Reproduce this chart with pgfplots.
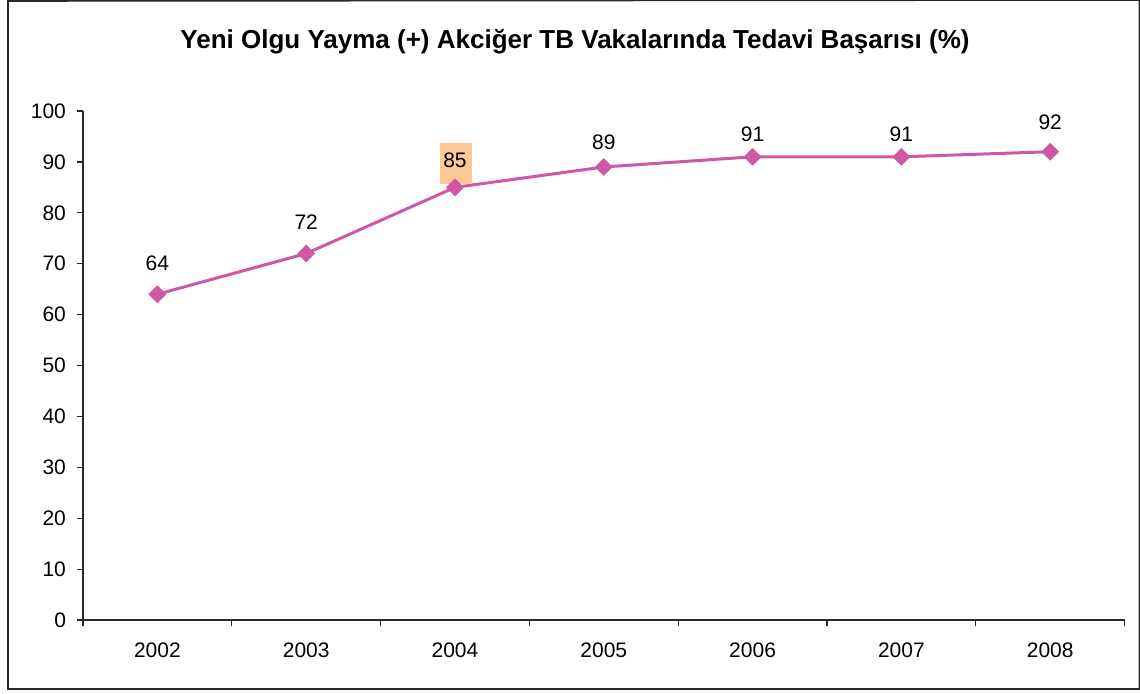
\documentclass[border=0pt]{standalone}
\usepackage{pgfplots}
\pgfplotsset{compat=1.18}
\usepackage{fontspec}
\setmainfont{Liberation Sans}
\definecolor{linec}{RGB}{206,88,166}
\definecolor{boxc}{RGB}{252,200,150}
\definecolor{axc}{RGB}{40,40,40}
\pgfplotstableread{
x y lab off
0 64 64 15.5
1 72 72 15.5
2 85 85 13.5
3 89 89 12.5
4 91 91 11.5
5 91 91 11.5
6 92 92 14.5
}\datatab
\begin{document}
\begin{tikzpicture}
\useasboundingbox (-41.5pt,-36.5pt) rectangle (528.5pt,310pt);
\begin{axis}[
  at={(0,0)}, anchor=south west,
  scale only axis,
  width=520.8pt, height=254.5pt,
  xmin=-0.5, xmax=6.5, ymin=0, ymax=100,
  axis x line=bottom, axis y line=left,
  axis line style={-, axc, line width=0.6pt},
  xtick={0,...,6},
  xticklabels={2002,2003,2004,2005,2006,2007,2008},
  major x tick style={draw=none},
  minor xtick={-0.5,0.5,...,6.5},
  minor x tick style={axc, line width=0.6pt},
  minor tick length=3pt,
  ytick={0,10,...,100},
  y tick style={axc, line width=0.6pt},
  major tick length=3pt,
  tick align=outside,
  tick label style={font=\fontsize{10.5}{12}\selectfont, text=black},
  /pgf/number format/assume math mode=true,
  xticklabel style={yshift=-5pt},
  yticklabel style={xshift=-2pt},
  clip=false,
]
\addplot[draw=none, nodes near coords={}, 
  every node near coord/.style={anchor=center, xshift=0.6pt, yshift=11.75pt, fill=boxc, inner sep=0pt,
    minimum width=16pt, minimum height=20.5pt}]
  coordinates {(2,85)};
\addplot[linec, line width=1.5pt, mark=square*, mark size=2.9pt,
  mark options={fill=linec, draw=linec, line width=0.5pt, rotate=45},
  nodes near coords, point meta=explicit symbolic,
  visualization depends on={\thisrow{off}\as\labeloff},
  every node near coord/.style={anchor=center, yshift=\labeloff pt, text=black, font=\fontsize{10.5}{12}\selectfont}]
  table[x=x, y=y, meta=lab] {\datatab};
\end{axis}
\node[font=\bfseries\fontsize{13}{15}\selectfont] at (246pt,289pt) {Yeni Olgu Yayma (+) Akciğer TB Vakalarında Tedavi Başarısı (\%)};
\draw[axc, line width=0.8pt] (528.2pt,310pt) -- (-37.5pt,309.5pt) -- (-37.5pt,-34.5pt) -- (528.2pt,-34.5pt) -- (528.2pt,310pt);
\end{tikzpicture}
\end{document}
